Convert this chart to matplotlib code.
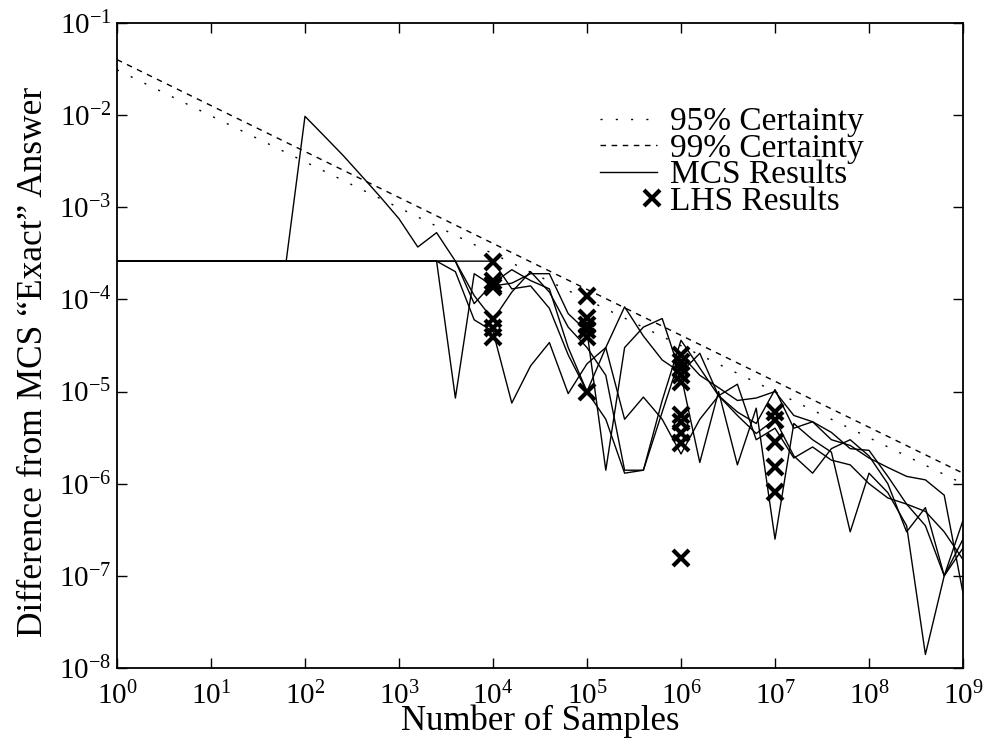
import numpy as np
import matplotlib
matplotlib.use("Agg")
from matplotlib import pyplot as plt
from matplotlib.legend_handler import HandlerLine2D

plt.rcParams['font.family'] = ['Liberation Serif', 'DejaVu Serif']
plt.rcParams['mathtext.fontset'] = 'custom'
plt.rcParams['mathtext.rm'] = 'Liberation Serif'

# sample counts: 10^0 ... 10^9 in steps of 0.2 decade
n_samples = [1.0, 1.585, 2.512, 3.981, 6.310,
             1e1, 1.585e1, 2.512e1, 3.981e1, 6.310e1,
             1e2, 1.585e2, 2.512e2, 3.981e2, 6.310e2,
             1e3, 1.585e3, 2.512e3, 3.981e3, 6.310e3,
             1e4, 1.585e4, 2.512e4, 3.981e4, 6.310e4,
             1e5, 1.585e5, 2.512e5, 3.981e5, 6.310e5,
             1e6, 1.585e6, 2.512e6, 3.981e6, 6.310e6,
             1e7, 1.585e7, 2.512e7, 3.981e7, 6.310e7,
             1e8, 1.585e8, 2.512e8, 3.981e8, 6.310e8,
             1e9]

# MCS runs (difference from exact answer)
mcs_a = [2.6e-4] * 10 + [9.7e-3, 6.0e-3, 3.7e-3, 2.2e-3, 1.3e-3, 7.5e-4, 3.7e-4,
         5.3e-4, 2.6e-4, 9.0e-5, 1.5e-4, 2.1e-4, 1.6e-4, 1.3e-4, 3.0e-5, 1.0e-5,
         3.0e-5, 8.3e-5, 4.0e-5, 2.2e-5, 1.6e-5, 2.6e-5, 9.0e-6, 6.0e-6, 4.5e-6,
         1.05e-5, 4.0e-6, 4.7e-6, 3.6e-6, 2.4e-6, 2.3e-6, 1.2e-6, 6.0e-7, 5.0e-7,
         3.0e-7, 1.5e-7]
mcs_b = [2.6e-4] * 18 + [8.5e-6, 1.9e-4, 1.4e-4, 1.5e-4, 1.9e-4, 1.9e-4, 7.0e-5,
         4.5e-5, 1.4e-6, 3.0e-5, 5.0e-5, 6.2e-5, 1.5e-5, 1.7e-6, 1.0e-5, 1.6e-6,
         6.6e-6, 2.5e-7, 4.5e-6, 3.0e-6, 2.2e-6, 3.0e-7, 1.3e-6, 8.0e-7, 3.5e-7,
         1.4e-8, 1.0e-7, 4.0e-7]
mcs_c = [2.6e-4] * 21 + [1.3e-4, 1.4e-4, 8.0e-5, 2.5e-5, 1.0e-5, 5.0e-6, 1.3e-6,
         1.4e-6, 8.0e-6, 3.6e-5, 1.8e-5, 9.0e-6, 5.5e-6, 3.5e-6, 5.0e-6, 2.0e-6,
         1.3e-6, 2.4e-6, 3.0e-6, 2.0e-6, 1.0e-6, 3.0e-7, 5.5e-7, 1.0e-7, 2.0e-7]
mcs_d = [2.6e-4] * 19 + [1.1e-4, 6.0e-5, 1.2e-4, 2.0e-4, 1.2e-4, 5.0e-5, 3.0e-5,
         1.5e-5, 1.4e-6, 1.4e-6, 6.0e-6, 2.5e-5, 1.5e-5, 1.1e-5, 8.0e-6, 8.5e-6,
         1.0e-5, 5.5e-6, 4.7e-6, 3.0e-6, 2.6e-6, 1.9e-6, 1.5e-6, 1.2e-6, 1.1e-6,
         7.5e-7, 6.5e-8]
mcs_e = [2.6e-4] * 18 + [2.0e-4, 6.0e-5, 4.5e-5, 7.5e-6, 1.9e-5, 3.4e-5, 9.5e-6,
         2.0e-5, 3.0e-5, 5.0e-6, 8.7e-6, 5.0e-6, 2.1e-6, 5.0e-6, 9.0e-6, 1.2e-5,
         3.0e-6, 4.0e-6, 1.9e-6, 2.5e-6, 1.8e-6, 1.6e-6, 1.0e-6, 7.0e-7, 6.0e-7,
         3.5e-7, 1.0e-7, 2.5e-7]

# certainty bounds (straight lines on log-log axes)
bound_n = [1.0, 1e9]
bound_95 = [3.1e-2, 1.0e-6]
bound_99 = [4.0e-2, 1.3e-6]

# LHS results
lhs_1e4 = [2.55e-4, 1.6e-4, 1.45e-4, 1.36e-4, 6.2e-5, 4.9e-5, 3.9e-5]
lhs_1e5 = [1.09e-4, 6.3e-5, 5.3e-5, 4.7e-5, 3.9e-5, 1.0e-5]
lhs_1e6 = [2.49e-5, 2.09e-5, 1.8e-5, 1.51e-5, 1.27e-5, 5.6e-6, 4.7e-6, 3.55e-6,
           2.76e-6, 1.56e-7]
lhs_1e7 = [6.0e-6, 4.9e-6, 2.84e-6, 1.52e-6, 8.1e-7]


class MarkerAtEnd(HandlerLine2D):
    # single legend marker drawn near the right end of the handle
    def get_xdata(self, legend, xdescent, ydescent, width, height, fontsize):
        end = -xdescent + width
        xd = np.array([end - 0.3 * fontsize, end])
        return xd, np.array([end - 0.15 * fontsize])


fig = plt.figure(figsize=(9.88, 7.38), dpi=100)
ax = fig.add_axes([0.1184, 0.0949, 0.8563, 0.874])

l95, = ax.plot(bound_n, bound_95, color='black', lw=1.0, dashes=(1.5, 9.5),
               label='95% Certainty')
l99, = ax.plot(bound_n, bound_99, color='black', lw=1.0, dashes=(4, 4),
               label='99% Certainty')
lmcs = None
for run in [mcs_a, mcs_b, mcs_c, mcs_d, mcs_e]:
    lmcs, = ax.plot(n_samples, run, color='black', lw=1.0, label='MCS Results')

lhs_n = [1e4] * len(lhs_1e4) + [1e5] * len(lhs_1e5) + [1e6] * len(lhs_1e6) + [1e7] * len(lhs_1e7)
lhs_y = lhs_1e4 + lhs_1e5 + lhs_1e6 + lhs_1e7
llhs, = ax.plot(lhs_n, lhs_y, linestyle='none', marker='x', color='black',
                markersize=11, markeredgewidth=3, label='LHS Results')

ax.set_xscale('log')
ax.set_yscale('log')
ax.set_xlim(1, 1e9)
ax.set_ylim(1e-8, 1e-1)
ax.xaxis.set_major_locator(matplotlib.ticker.LogLocator(base=10, numticks=20))
ax.yaxis.set_major_locator(matplotlib.ticker.LogLocator(base=10, numticks=20))
ax.xaxis.set_minor_locator(matplotlib.ticker.NullLocator())
ax.yaxis.set_minor_locator(matplotlib.ticker.NullLocator())
ax.tick_params(which='major', direction='in', length=7, width=1.0,
               top=True, right=True, labelsize=21, pad=4)
ax.tick_params(axis='x', pad=10)
for s in ax.spines.values():
    s.set_linewidth(1.3)

ax.set_xlabel('Number of Samples', fontsize=25, labelpad=-4)
ax.set_ylabel('Difference from MCS \u201cExact\u201d Answer', fontsize=25.5)
ax.yaxis.set_label_coords(-0.079, 0.474)

ax.legend(handles=[l95, l99, lmcs, llhs], loc='upper left',
          bbox_to_anchor=(0.571, 0.87), frameon=False, fontsize=24,
          handlelength=1.7, handletextpad=0.4, labelspacing=-0.12,
          borderpad=0, borderaxespad=0,
          handler_map={llhs: MarkerAtEnd(numpoints=1)})

fig.savefig('out.png', dpi=100)
